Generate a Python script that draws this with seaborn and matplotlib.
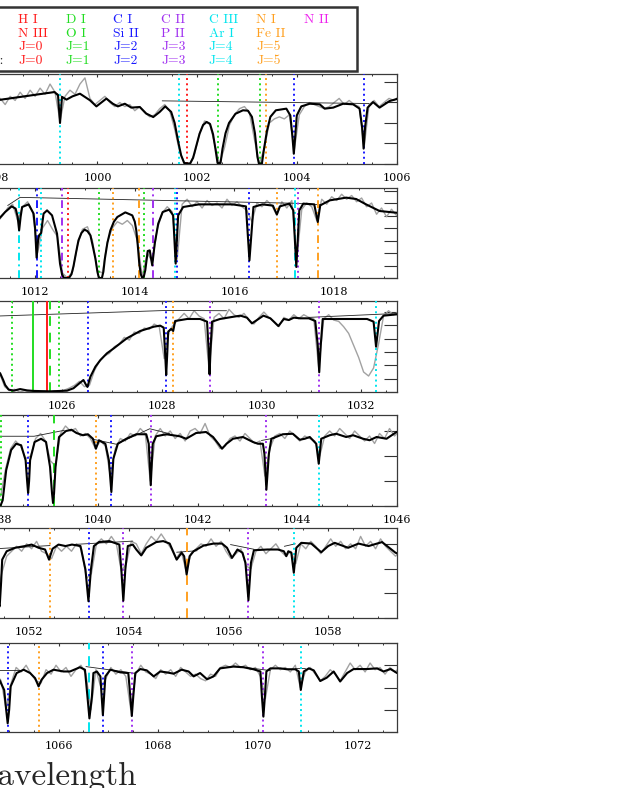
import numpy as np
import matplotlib
matplotlib.use("Agg")
import matplotlib.pyplot as plt
import seaborn as sns
from matplotlib.patches import Rectangle
from matplotlib.ticker import MultipleLocator, FormatStrFormatter, NullLocator

# ---------------- data ----------------
# flux in units of the right-hand y tick spacing, wavelength in Angstrom

# panel 1
p1_xmax = 1006.01
p1_ytop = 4.39
p1_model = [(997.9, 3.08), (999.14, 3.51), (999.21, 3.35), (999.25, 2.0), (999.29, 3.27), (999.38, 3.14),
            (999.5, 3.3), (999.65, 3.43), (999.85, 3.11), (999.98, 2.81), (1000.18, 3.19), (1000.31, 2.94),
            (1000.41, 2.81), (1000.55, 2.94), (1000.68, 2.75), (1000.85, 2.78), (1000.98, 2.46), (1001.12, 2.29),
            (1001.25, 2.54), (1001.36, 2.81), (1001.48, 2.54), (1001.55, 2.0), (1001.62, 1.1), (1001.68, 0.42),
            (1001.74, 0.05), (1001.86, 0.02), (1001.92, 0.3), (1001.98, 0.85), (1002.05, 1.48), (1002.12, 1.9),
            (1002.19, 2.05), (1002.26, 1.95), (1002.32, 1.45), (1002.37, 0.7), (1002.41, 0.05), (1002.47, 0.05),
            (1002.51, 0.75), (1002.57, 1.5), (1002.64, 2.0), (1002.77, 2.45), (1002.92, 2.62), (1003.02, 2.6),
            (1003.10, 2.3), (1003.16, 1.5), (1003.21, 0.35), (1003.24, 0.02), (1003.30, 0.02), (1003.34, 0.7),
            (1003.40, 1.6), (1003.47, 2.3), (1003.58, 2.62), (1003.79, 2.70), (1003.87, 2.37), (1003.91, 1.4),
            (1003.94, 0.5), (1003.97, 1.4), (1004.00, 2.37), (1004.09, 2.81), (1004.26, 2.94), (1004.46, 2.91),
            (1004.56, 2.70), (1004.73, 2.75), (1004.93, 2.94), (1005.13, 2.91), (1005.26, 2.70), (1005.31, 1.8),
            (1005.34, 0.75), (1005.37, 1.8), (1005.42, 2.75), (1005.53, 3.02), (1005.66, 2.75), (1005.86, 3.07),
            (1006.05, 3.2)]
p1_data_start = 997.95
p1_data = [3.0, 3.2, 2.9, 3.3, 3.1, 3.5, 3.2, 3.6, 3.3, 3.7, 3.4, 3.9, 3.5, 2.1, 3.3, 3.6, 3.4, 3.9, 4.2, 3.2,
           2.9, 3.1, 3.3, 3.0, 2.8, 3.0, 2.8, 2.9, 2.6, 2.8, 2.5, 2.3, 2.4, 2.7, 2.9, 2.6, 1.7, 0.6, 0.05, 0.0,
           0.5, 1.5, 2.1, 2.0, 1.0, 0.0, 0.8, 1.9, 2.4, 2.7, 2.8, 2.5, 1.2, 0.0, 0.8, 2.0, 2.2, 2.3, 2.2, 2.4,
           0.7, 2.4, 2.8, 3.0, 2.9, 2.8, 2.7, 2.8, 3.0, 3.2, 2.9, 3.1, 2.9, 2.8, 0.8, 2.9, 3.1, 2.8, 3.0, 3.2,
           3.1, 3.3]
p1_cont = [[(997.9, 3.08), (999.14, 3.51), (999.34, 3.22)],
           [(1001.30, 3.08), (1005.45, 2.95)]]
p1_lines = [(999.25, "H2 J=4"), (1001.63, "H2 J=4"), (1001.80, "H2 J=0"), (1002.42, "H2 J=1"),
            (1003.26, "H2 J=1"), (1003.39, "H2 J=5"), (1003.94, "H2 J=2"), (1005.35, "H2 J=2")]

# panel 2
p2_xmax = 1019.26
p2_ytop = 7.2
p2_model = [(1011.2, 4.4), (1011.26, 4.67), (1011.40, 5.28), (1011.53, 5.73), (1011.61, 5.55), (1011.65, 4.9),
            (1011.68, 3.81), (1011.71, 4.9), (1011.74, 5.68), (1011.87, 5.89), (1011.97, 5.15), (1012.0, 4.0),
            (1012.03, 1.63), (1012.06, 3.0), (1012.08, 3.41), (1012.12, 3.6), (1012.17, 5.15), (1012.24, 5.41),
            (1012.34, 5.01), (1012.44, 3.55), (1012.50, 1.15), (1012.54, 0.3), (1012.58, 0.0), (1012.68, 0.0),
            (1012.73, 0.3), (1012.77, 0.93), (1012.82, 2.0), (1012.87, 3.01), (1012.93, 3.6), (1012.99, 3.87),
            (1013.05, 3.75), (1013.11, 3.41), (1013.16, 2.5), (1013.21, 1.55), (1013.25, 0.5), (1013.28, 0.0),
            (1013.34, 0.0), (1013.37, 0.5), (1013.40, 1.55), (1013.45, 2.8), (1013.51, 3.81), (1013.58, 4.5),
            (1013.65, 4.88), (1013.81, 5.25), (1013.95, 5.01), (1014.00, 4.5), (1014.03, 3.81), (1014.06, 2.6),
            (1014.09, 1.15), (1014.12, 0.3), (1014.15, 0.0), (1014.18, 0.1), (1014.21, 0.61), (1014.26, 2.16),
            (1014.30, 2.21), (1014.35, 1.01), (1014.40, 2.75), (1014.47, 4.35), (1014.56, 5.28), (1014.69, 5.47),
            (1014.77, 5.01), (1014.82, 1.15), (1014.87, 5.01), (1014.97, 5.68), (1015.29, 5.89), (1015.96, 5.89),
            (1016.23, 5.73), (1016.30, 1.41), (1016.38, 5.68), (1016.56, 5.89), (1016.77, 5.79), (1016.85, 5.09),
            (1016.91, 5.73), (1017.10, 5.95), (1017.18, 5.41), (1017.24, 0.88), (1017.30, 5.41), (1017.38, 5.95),
            (1017.60, 5.89), (1017.67, 4.48), (1017.72, 5.81), (1017.91, 6.21), (1018.24, 6.43), (1018.44, 6.32),
            (1018.64, 5.89), (1018.91, 5.36), (1019.3, 5.2)]
p2_data_start = 1011.25
p2_data = [4.5, 5.0, 5.6, 5.9, 4.6, 5.7, 6.1, 5.3, 2.0, 4.0, 4.6, 3.9, 3.3, 0.4, 0.0, 0.5, 2.6, 3.9, 4.1, 3.0,
           0.6, 0.4, 2.9, 4.0, 4.5, 4.3, 4.6, 4.2, 3.0, 0.1, 2.0, 1.3, 3.9, 5.2, 5.7, 5.3, 1.5, 5.9, 6.3, 5.7,
           6.1, 5.6, 6.2, 5.8, 6.0, 5.6, 6.3, 5.8, 6.1, 5.7, 5.4, 4.5, 6.0, 5.7, 6.2, 5.8, 5.0, 6.1, 5.6, 6.2,
           1.5, 5.5, 6.0, 5.7, 4.6, 6.3, 5.9, 6.5, 6.2, 6.7, 6.3, 6.6, 6.1, 6.4, 5.7, 6.0, 5.1, 5.6, 4.9, 5.5,
           5.0, 5.4]
p2_cont = [[(1011.45, 5.8), (1011.70, 6.45), (1017.20, 5.98), (1017.75, 5.85)]]
p2_lines = [(1011.68, "HD J=4"), (1012.03, "HD J=2"), (1012.12, "H2 J=4"), (1012.54, "HD J=3"),
            (1012.66, "H2 J=0"), (1013.29, "H2 J=1"), (1013.56, "H2 J=5"), (1014.09, "HD J=5"),
            (1014.18, "H2 J=1"), (1014.36, "HD J=3"), (1014.81, "H2 J=4"), (1014.84, "H2 J=2"),
            (1016.30, "H2 J=2"), (1016.85, "H2 J=5"), (1017.22, "HD J=4"), (1017.27, "H2 J=3"),
            (1017.67, "HD J=5")]

# panel 3
p3_xmax = 1032.72
p3_ytop = 6.83
p3_model = [(1024.7, 1.6), (1024.76, 1.4), (1024.82, 0.9), (1024.86, 0.52), (1024.93, 0.18), (1025.03, 0.1),
            (1025.16, 0.22), (1025.30, 0.12), (1025.43, 0.08), (1025.77, 0.05), (1026.10, 0.1), (1026.23, 0.28),
            (1026.37, 0.72), (1026.43, 0.9), (1026.48, 0.55), (1026.51, 0.38), (1026.57, 1.15), (1026.67, 1.9),
            (1026.77, 2.4), (1026.90, 2.9), (1027.04, 3.28), (1027.30, 4.03), (1027.57, 4.58), (1027.84, 4.9),
            (1027.97, 4.98), (1028.04, 4.83), (1028.07, 2.8), (1028.09, 1.28), (1028.11, 2.8), (1028.13, 4.53),
            (1028.19, 4.73), (1028.23, 4.58), (1028.27, 5.33), (1028.51, 5.48), (1028.77, 5.48), (1028.91, 5.28),
            (1028.94, 3.2), (1028.96, 1.33), (1028.98, 3.2), (1029.01, 5.28), (1029.17, 5.48), (1029.44, 5.65),
            (1029.58, 5.73), (1029.71, 5.58), (1029.81, 5.15), (1029.91, 5.4), (1030.04, 5.73), (1030.18, 5.53),
            (1030.34, 4.95), (1030.45, 5.48), (1030.55, 5.4), (1030.65, 5.58), (1030.78, 5.53), (1030.95, 5.53),
            (1031.08, 5.33), (1031.13, 3.5), (1031.16, 1.48), (1031.19, 3.5), (1031.23, 5.48), (1031.45, 5.48),
            (1032.12, 5.48), (1032.25, 5.28), (1032.30, 3.4), (1032.36, 5.33), (1032.45, 5.73), (1032.72, 5.83),
            (1032.8, 5.85)]
p3_data_start = 1024.75
p3_data = [1.4, 0.4, 0.1, 0.2, 0.0, 0.1, 0.0, 0.1, 0.0, 0.05, 0.0, 0.1, 0.0, 0.15, 0.3, 0.5, 0.8, 0.4, 0.5, 1.6,
           2.3, 2.7, 2.9, 3.4, 3.6, 4.1, 3.9, 4.5, 4.4, 4.8, 4.7, 5.1, 4.9, 2.5, 4.6, 5.1, 5.5, 5.9, 5.5, 6.1,
           5.7, 5.5, 1.7, 5.6, 5.9, 5.5, 6.2, 5.8, 5.6, 5.9, 5.4, 5.1, 5.6, 6.0, 5.6, 5.3, 4.9, 5.6, 5.4, 5.8,
           5.5, 5.8, 5.6, 5.5, 1.8, 5.5, 5.8, 5.4, 5.3, 4.9, 4.4, 3.5, 2.6, 1.5, 1.2, 1.8, 3.6, 5.7, 6.1, 5.8,
           6.0]
p3_cont = [[(1024.7, 5.7), (1028.1, 6.12), (1029.3, 6.1)],
           [(1030.95, 5.6), (1032.45, 5.85), (1032.8, 5.87)]]
p3_lines = [(1025.00, "H2 J=1"), (1025.42, "D I"), (1025.69, "H I"), (1025.75, "O I"), (1025.93, "H2 J=1"),
            (1026.52, "H2 J=2"), (1028.085, "H2 J=2"), (1028.225, "H2 J=5"), (1028.96, "H2 J=3"),
            (1031.16, "H2 J=3"), (1032.30, "H2 J=4")]

# panel 4
p4_xmax = 1046.0
p4_ytop = 3.64
p4_model = [(1037.95, 0.6), (1038.0, 0.05), (1038.05, 0.03), (1038.09, 0.23), (1038.16, 1.43), (1038.26, 2.24),
            (1038.36, 2.49), (1038.46, 2.43), (1038.55, 1.83), (1038.58, 1.0), (1038.60, 0.52), (1038.62, 1.0),
            (1038.64, 1.83), (1038.73, 2.56), (1038.86, 2.69), (1038.96, 2.56), (1039.04, 1.56), (1039.08, 0.5),
            (1039.10, 0.12), (1039.12, 0.5), (1039.15, 1.56), (1039.22, 2.76), (1039.36, 3.0), (1039.47, 3.05),
            (1039.57, 2.92), (1039.70, 2.83), (1039.80, 2.87), (1039.90, 2.69), (1039.96, 2.29), (1040.02, 2.63),
            (1040.15, 2.49), (1040.22, 1.83), (1040.27, 0.56), (1040.31, 1.89), (1040.40, 2.49), (1040.57, 2.69),
            (1040.77, 2.87), (1040.97, 2.87), (1041.02, 2.49), (1041.06, 0.83), (1041.10, 2.49), (1041.17, 2.79),
            (1041.37, 2.87), (1041.64, 2.79), (1041.77, 2.69), (1041.97, 2.92), (1042.17, 2.96), (1042.31, 2.76),
            (1042.44, 2.43), (1042.49, 2.29), (1042.58, 2.49), (1042.71, 2.69), (1042.91, 2.76), (1043.11, 2.56),
            (1043.21, 2.49), (1043.31, 2.49), (1043.34, 2.09), (1043.38, 0.65), (1043.43, 2.09), (1043.48, 2.69),
            (1043.71, 2.87), (1043.91, 2.89), (1044.05, 2.65), (1044.15, 2.69), (1044.25, 2.76), (1044.38, 2.49),
            (1044.43, 1.69), (1044.48, 2.69), (1044.65, 2.83), (1044.78, 2.89), (1044.98, 2.76), (1045.12, 2.83),
            (1045.32, 2.69), (1045.45, 2.63), (1045.59, 2.76), (1045.79, 2.69), (1045.99, 2.96), (1046.05, 2.98)]
p4_data_start = 1037.95
p4_data = [0.3, 0.4, 1.5, 2.3, 2.6, 2.4, 1.9, 2.0, 2.7, 2.9, 2.6, 1.8, 1.6, 2.9, 3.2, 3.0, 3.1, 2.8, 2.9, 2.7,
           2.3, 2.6, 2.4, 1.2, 2.3, 2.7, 2.6, 2.9, 2.8, 3.1, 2.9, 1.0, 2.8, 3.1, 2.8, 3.0, 2.7, 2.9, 2.6, 3.0,
           3.1, 2.9, 3.3, 2.8, 2.6, 2.3, 2.4, 2.7, 2.8, 2.6, 2.9, 2.7, 2.5, 2.6, 1.2, 2.3, 2.8, 2.9, 2.7, 3.0,
           2.8, 2.6, 2.8, 2.7, 2.6, 2.0, 2.8, 3.0, 2.8, 3.1, 2.9, 2.7, 3.0, 2.8, 2.6, 2.8, 2.5, 2.9, 2.7, 3.1,
           2.8, 3.0]
p4_cont = [[(1037.95, 2.79), (1038.72, 2.79), (1039.33, 3.03)],
           [(1039.90, 2.67), (1040.37, 2.47), (1041.04, 3.09), (1041.44, 2.89)],
           [(1043.28, 2.62), (1043.55, 2.72)]]
p4_lines = [(1038.06, "H2 J=1"), (1038.60, "H2 J=2"), (1039.11, "O I"), (1039.96, "H2 J=5"),
            (1040.27, "H2 J=2"), (1041.06, "H2 J=3"), (1043.38, "H2 J=3"), (1044.43, "H2 J=4")]

# panel 5
p5_xmax = 1059.38
p5_ytop = 3.64
p5_model = [(1051.33, 1.6), (1051.38, 0.61), (1051.41, 0.47), (1051.44, 1.5), (1051.46, 2.36), (1051.55, 2.7),
            (1051.72, 2.84), (1051.92, 2.91), (1052.05, 2.97), (1052.19, 2.84), (1052.32, 2.77), (1052.40, 2.36),
            (1052.47, 2.8), (1052.59, 2.97), (1052.73, 2.91), (1052.86, 2.97), (1053.03, 2.91), (1053.13, 1.96),
            (1053.19, 0.68), (1053.24, 1.96), (1053.30, 2.91), (1053.40, 3.07), (1053.61, 3.11), (1053.81, 2.97),
            (1053.85, 1.96), (1053.89, 0.7), (1053.93, 1.96), (1053.98, 2.91), (1054.08, 2.97), (1054.15, 2.77),
            (1054.25, 2.53), (1054.35, 2.84), (1054.55, 3.07), (1054.69, 3.11), (1054.82, 3.01), (1054.96, 2.36),
            (1055.06, 2.64), (1055.11, 2.5), (1055.16, 1.76), (1055.22, 2.5), (1055.30, 2.7), (1055.50, 2.93),
            (1055.70, 3.01), (1055.87, 3.01), (1055.97, 2.84), (1056.07, 2.43), (1056.18, 2.77), (1056.28, 2.64),
            (1056.34, 2.23), (1056.40, 0.72), (1056.45, 2.23), (1056.51, 2.74), (1056.78, 2.77), (1056.99, 2.77),
            (1057.11, 2.7), (1057.16, 2.5), (1057.20, 2.7), (1057.26, 2.64), (1057.31, 1.83), (1057.36, 2.84),
            (1057.46, 3.04), (1057.66, 3.01), (1057.86, 2.66), (1058.00, 2.91), (1058.13, 3.04), (1058.40, 2.84),
            (1058.61, 3.01), (1058.81, 2.91), (1059.08, 3.07), (1059.35, 2.64), (1059.45, 2.57)]
p5_data_start = 1051.35
p5_data = [0.8, 1.8, 2.5, 2.7, 2.9, 2.7, 3.0, 2.8, 3.1, 2.7, 2.6, 2.4, 2.9, 2.7, 2.9, 2.7, 3.0, 2.8, 1.6, 1.8,
           3.0, 3.2, 3.0, 3.3, 3.0, 1.9, 2.2, 3.1, 3.0, 2.6, 3.0, 3.3, 3.1, 3.4, 3.1, 2.8, 2.4, 2.7, 1.9, 2.6,
           2.8, 3.0, 2.9, 3.2, 2.9, 3.1, 2.7, 2.4, 2.6, 2.8, 2.1, 2.0, 2.7, 2.9, 2.6, 2.8, 3.0, 2.7, 2.5, 2.7,
           2.2, 3.0, 2.8, 3.1, 2.9, 2.6, 2.9, 3.2, 2.9, 3.1, 2.8, 3.0, 2.8, 3.3, 2.9, 3.1, 2.8, 3.2, 2.9, 2.7,
           2.5, 2.7]
p5_cont = [[(1051.33, 2.8), (1052.42, 2.93)], [(1052.86, 2.97), (1054.08, 3.11)],
           [(1054.96, 2.66), (1055.37, 2.72)], [(1056.04, 2.97), (1056.51, 2.78)],
           [(1057.12, 2.9), (1057.34, 3.0)]]
p5_lines = [(1051.40, "H2 J=2"), (1052.41, "H2 J=5"), (1053.20, "H2 J=2"), (1053.89, "H2 J=3"),
            (1055.16, "Fe II"), (1056.40, "H2 J=3"), (1057.31, "H2 J=4")]

# panel 6
p6_xmax = 1072.79
p6_ytop = 4.0
p6_model = [(1064.75, 2.6), (1064.83, 2.27), (1064.91, 1.89), (1064.95, 1.0), (1064.98, 0.39), (1065.01, 1.0),
            (1065.04, 2.05), (1065.16, 2.65), (1065.30, 2.80), (1065.43, 2.65), (1065.53, 2.42), (1065.60, 2.05),
            (1065.66, 2.35), (1065.77, 2.65), (1065.90, 2.80), (1066.10, 2.72), (1066.23, 2.72), (1066.43, 2.91),
            (1066.53, 2.80), (1066.58, 1.6), (1066.62, 0.61), (1066.67, 1.6), (1066.70, 2.65), (1066.77, 2.72),
            (1066.84, 2.5), (1066.89, 0.76), (1066.94, 2.5), (1067.04, 2.8), (1067.24, 2.68), (1067.40, 2.65),
            (1067.44, 1.6), (1067.47, 0.72), (1067.50, 1.6), (1067.54, 2.65), (1067.64, 2.83), (1067.77, 2.77),
            (1067.91, 2.5), (1068.04, 2.72), (1068.17, 2.68), (1068.31, 2.62), (1068.47, 2.80), (1068.61, 2.72),
            (1068.71, 2.5), (1068.84, 2.65), (1068.98, 2.37), (1069.11, 2.5), (1069.24, 2.86), (1069.51, 2.94),
            (1069.71, 2.91), (1069.91, 2.82), (1070.05, 2.72), (1070.08, 1.6), (1070.11, 0.69), (1070.14, 1.6),
            (1070.17, 2.72), (1070.25, 2.86), (1070.45, 2.86), (1070.58, 2.82), (1070.75, 2.82), (1070.82, 2.72),
            (1070.86, 1.89), (1070.92, 2.72), (1071.02, 2.86), (1071.12, 2.77), (1071.25, 2.29), (1071.38, 2.44),
            (1071.52, 2.72), (1071.65, 2.27), (1071.79, 2.65), (1071.92, 2.83), (1072.19, 2.83), (1072.39, 2.86),
            (1072.52, 2.72), (1072.66, 2.83), (1072.79, 2.65), (1072.85, 2.7)]
p6_data_start = 1064.75
p6_data = [2.6, 2.3, 1.0, 2.2, 2.9, 2.7, 3.0, 2.6, 2.3, 2.2, 2.8, 2.6, 3.0, 2.7, 2.9, 2.5, 2.8, 3.0, 2.6, 1.0,
           2.8, 2.0, 2.4, 2.9, 2.6, 2.8, 2.5, 1.0, 2.6, 3.0, 2.7, 2.6, 2.4, 2.8, 2.6, 2.8, 2.5, 2.9, 2.7, 2.5,
           2.6, 2.4, 2.3, 2.6, 2.5, 2.9, 3.0, 2.9, 3.1, 2.9, 3.0, 2.8, 2.9, 2.5, 1.5, 2.8, 3.0, 2.8, 2.9, 2.7,
           3.0, 2.0, 2.7, 2.9, 2.6, 2.3, 2.5, 2.8, 2.6, 2.3, 2.7, 3.1, 2.8, 3.0, 2.7, 3.1, 2.8, 2.9, 2.6, 2.9,
           2.7, 2.9]
p6_cont = [[(1064.75, 2.79), (1065.23, 2.79)], [(1066.55, 2.94), (1067.52, 2.64)],
           [(1069.51, 2.97), (1070.25, 2.76)], [(1070.75, 2.86), (1070.95, 2.86)]]
p6_lines = [(1064.98, "H2 J=2"), (1065.60, "H2 J=5"), (1066.62, "Ar I"), (1066.89, "H2 J=2"),
            (1067.47, "H2 J=3"), (1070.11, "H2 J=3"), (1070.86, "H2 J=4")]

# legend box
legend_atoms = ["H I", "D I", "C I", "C II", "C III", "N I", "N II"]
legend_ions = ["N III", "O I", "Si II", "P II", "Ar I", "Fe II"]
legend_levels = ["J=0", "J=1", "J=2", "J=3", "J=4", "J=5"]

# ---------------- styling ----------------
LEVEL_COLORS = ["#ff1a1a", "#22dd22", "#1a1aff", "#a030f0", "#00e5ee", "#ffa020", "#ee22ee"]
ATOM_COLOR = {"H I": LEVEL_COLORS[0], "D I": LEVEL_COLORS[1], "O I": LEVEL_COLORS[1],
              "Ar I": LEVEL_COLORS[4], "Fe II": LEVEL_COLORS[5]}
DOTTED = (0, (1, 1.7))
DASHDOT = (0, (4, 2, 1, 2))
LONGDASH = (0, (5, 3.5))


def marker_style(label):
    if label.startswith("H2 J="):
        return LEVEL_COLORS[int(label[-1])], DOTTED
    if label.startswith("HD J="):
        return LEVEL_COLORS[int(label[-1])], DASHDOT
    if label in ("H I", "D I"):
        return ATOM_COLOR[label], "-"
    return ATOM_COLOR[label], LONGDASH


sns.set_style("ticks")
plt.rcParams["font.family"] = ["DejaVu Serif"]
plt.rcParams["mathtext.fontset"] = "cm"
CM = ["cmr10", "DejaVu Serif"]

W, H = 617, 788
fig = plt.figure(figsize=(W / 100, H / 100), dpi=100)

AX_LEFT = -268.5   # the left part of the figure is cropped away
AX_WIDTH = 665.5
SPAN = 13.35
panel_px = [(74, 164), (188, 278), (301, 392), (415, 506), (528, 618), (643, 732)]

panels = [
    (p1_xmax, p1_ytop, p1_model, p1_data_start, p1_data, p1_cont, p1_lines),
    (p2_xmax, p2_ytop, p2_model, p2_data_start, p2_data, p2_cont, p2_lines),
    (p3_xmax, p3_ytop, p3_model, p3_data_start, p3_data, p3_cont, p3_lines),
    (p4_xmax, p4_ytop, p4_model, p4_data_start, p4_data, p4_cont, p4_lines),
    (p5_xmax, p5_ytop, p5_model, p5_data_start, p5_data, p5_cont, p5_lines),
    (p6_xmax, p6_ytop, p6_model, p6_data_start, p6_data, p6_cont, p6_lines),
]

for (top, bot), (xmax, ytop, model, dstart, data, cont, lines) in zip(panel_px, panels):
    ax = fig.add_axes([AX_LEFT / W, 1 - bot / H, AX_WIDTH / W, (bot - top) / H])

    # observed spectrum (grey)
    data_wl = dstart + 0.1 * np.arange(len(data))
    sns.lineplot(x=data_wl, y=data, ax=ax, color="#a2a2a2", linewidth=1.0,
                 estimator=None, sort=False, legend=False, zorder=1)

    # thin continuum
    for seg in cont:
        sns.lineplot(x=[p[0] for p in seg], y=[p[1] for p in seg], ax=ax, color="#222222",
                     linewidth=0.6, estimator=None, sort=False, legend=False, zorder=2)

    # line identifications
    for wl, label in lines:
        col, ls = marker_style(label)
        ax.axvline(wl, color=col, linestyle=ls, linewidth=1.4, zorder=3)

    # model fit
    sns.lineplot(x=[p[0] for p in model], y=[p[1] for p in model], ax=ax, color="black",
                 linewidth=1.5, estimator=None, sort=False, legend=False, zorder=4)

    ax.set_xlim(xmax - SPAN, xmax)
    ax.set_ylim(0, ytop)
    ax.set_xlabel("")
    ax.set_ylabel("")
    ax.xaxis.set_major_locator(MultipleLocator(2))
    ax.xaxis.set_minor_locator(MultipleLocator(0.5))
    ax.xaxis.set_major_formatter(FormatStrFormatter("%d"))
    ax.yaxis.set_major_locator(MultipleLocator(1))
    ax.yaxis.set_minor_locator(NullLocator())
    ax.tick_params(axis="x", which="major", direction="in", length=2.2, width=0.8,
                   top=True, bottom=True, labelsize=8, pad=6.3, colors="#333333", labelcolor="black")
    ax.tick_params(axis="x", which="minor", direction="in", length=1.1, width=0.7,
                   top=True, bottom=True, colors="#333333")
    ax.tick_params(axis="y", which="major", direction="in", length=9.4, width=0.8,
                   left=True, right=True, labelleft=False, colors="#333333")
    for sp in ax.spines.values():
        sp.set_visible(True)
        sp.set_color("#3a3a3a")
        sp.set_linewidth(0.9)

# legend box at the top
fig.add_artist(Rectangle((-0.5, 1 - 71 / H), 0.5 + 357 / W, 64 / H, transform=fig.transFigure,
                         fill=False, edgecolor="#333333", linewidth=1.8, clip_on=False))
col_x = [18 + 47.7 * j for j in range(7)]
row_y = [20, 34, 47, 61]
LEG_FS = 9.8
for j, name in enumerate(legend_atoms):
    fig.text(col_x[j] / W, 1 - row_y[0] / H, name, color=LEVEL_COLORS[j], fontsize=LEG_FS,
             family=CM, ha="left", va="center")
for j, name in enumerate(legend_ions):
    fig.text(col_x[j] / W, 1 - row_y[1] / H, name, color=LEVEL_COLORS[j], fontsize=LEG_FS,
             family=CM, ha="left", va="center")
for r in (2, 3):
    for j, name in enumerate(legend_levels):
        fig.text(col_x[j] / W, 1 - row_y[r] / H, name, color=LEVEL_COLORS[j], fontsize=LEG_FS,
                 family=CM, ha="left", va="center")
fig.text(-1 / W, 1 - row_y[2] / H, r"H$_2$:", fontsize=LEG_FS, family=CM, ha="right", va="center")
fig.text(4 / W, 1 - row_y[3] / H, "HD:", fontsize=LEG_FS, family=CM, ha="right", va="center")

# x axis title (partly cut by the crop)
fig.text(-37 / W, 3 / H, "Wavelength", fontsize=24, family=CM, ha="left", va="baseline")

fig.savefig("out.png", dpi=100)
